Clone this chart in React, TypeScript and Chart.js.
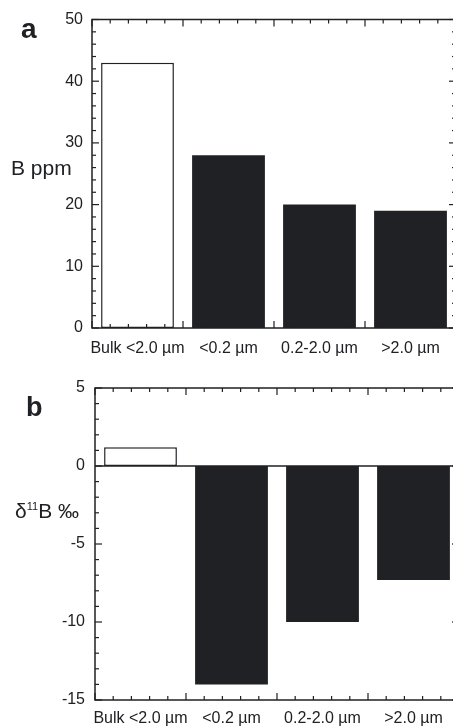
import React, { useEffect, useRef } from "react";
import { Chart, registerables } from "chart.js";

Chart.register(...registerables);

// ---- data ----
const categories = ["Bulk <2.0 µm", "<0.2 µm", "0.2-2.0 µm", ">2.0 µm"];
const boronPpm = [43, 28, 20, 19];
const delta11B = [1.2, -14, -10, -7.3];
const ppmAxis = { min: 0, max: 50, major: 10, minor: 2 };
const deltaAxis = { min: -15, max: 5, major: 5, minor: 1 };

const INK = "#202124";
const FONT = "'Liberation Sans', Arial, Helvetica, sans-serif";

const framePlugin = {
  id: "frame",
  afterDatasetsDraw(chart: any, _args: any, opts: any) {
    const { ctx, chartArea: a, scales } = chart;
    const y = scales.y;
    const x = scales.x;
    const line = (x1: number, y1: number, x2: number, y2: number) => {
      ctx.beginPath();
      ctx.moveTo(x1, y1);
      ctx.lineTo(x2, y2);
      ctx.stroke();
    };
    ctx.save();
    ctx.strokeStyle = INK;
    ctx.lineWidth = 1.5;
    if (y.min < 0 && y.max > 0) {
      const zy = y.getPixelForValue(0);
      line(a.left, zy, a.right, zy);
    }
    ctx.strokeRect(a.left, a.top, a.right - a.left, a.bottom - a.top);
    ctx.lineWidth = 1.2;
    // y ticks (inward, both sides)
    const steps = Math.round((y.max - y.min) / opts.minor);
    for (let i = 0; i <= steps; i++) {
      const v = y.min + i * opts.minor;
      const py = y.getPixelForValue(v);
      const r = v / opts.major;
      const major = Math.abs(r - Math.round(r)) < 1e-6;
      const len = major ? 7 : 4;
      line(a.left, py, a.left + len, py);
      line(a.right, py, a.right - len, py);
    }
    // x ticks (inward, top and bottom), 5 subdivisions per category
    const n = chart.data.labels.length;
    const c0 = x.getPixelForValue(0);
    const w = n > 1 ? x.getPixelForValue(1) - c0 : a.right - a.left;
    const start = c0 - w / 2;
    for (let i = 0; i < n; i++) {
      for (let k = 0; k < 5; k++) {
        const px = start + i * w + (k * w) / 5;
        const len = k === 0 ? 7 : 4;
        line(px, a.bottom, px, a.bottom - len);
        line(px, a.top, px, a.top + len);
      }
    }
    ctx.restore();
  },
};

type PanelProps = {
  values: number[];
  axis: { min: number; max: number; major: number; minor: number };
  width: number;
  height: number;
  padTop: number;
  padRight: number;
  yWidth: number;
  xHeight: number;
  xPad: number;
  yPad: number;
};

function Panel(p: PanelProps) {
  const ref = useRef<HTMLCanvasElement | null>(null);
  useEffect(() => {
    if (!ref.current) return;
    const chart = new Chart(ref.current, {
      type: "bar",
      data: {
        labels: categories,
        datasets: [
          {
            data: p.values,
            backgroundColor: p.values.map((_, i) => (i === 0 ? "#ffffff" : INK)),
            borderColor: INK,
            borderWidth: p.values.map((_, i) => (i === 0 ? 1.5 : 0)),
            borderSkipped: false,
            categoryPercentage: 1,
            barPercentage: 0.8,
          },
        ],
      },
      options: {
        responsive: false,
        animation: false,
        devicePixelRatio: 1,
        layout: { padding: { top: p.padTop, right: p.padRight, left: 0, bottom: 0 } },
        plugins: {
          legend: { display: false },
          tooltip: { enabled: false },
          frame: { major: p.axis.major, minor: p.axis.minor },
        } as any,
        scales: {
          x: {
            offset: true,
            grid: { display: false, drawTicks: false },
            border: { display: false },
            ticks: {
              color: INK,
              padding: p.xPad,
              maxRotation: 0,
              autoSkip: false,
              font: { family: FONT, size: 16 },
            },
            afterFit: (s: any) => {
              s.height = p.xHeight;
            },
          },
          y: {
            min: p.axis.min,
            max: p.axis.max,
            grid: { display: false, drawTicks: false },
            border: { display: false },
            ticks: {
              stepSize: p.axis.major,
              color: INK,
              padding: p.yPad,
              font: { family: FONT, size: 16 },
            },
            afterFit: (s: any) => {
              s.width = p.yWidth;
            },
          },
        },
      },
      plugins: [framePlugin],
    });
    return () => chart.destroy();
  }, []);
  return (
    <canvas
      ref={ref}
      width={p.width}
      height={p.height}
      style={{ width: p.width, height: p.height, display: "block" }}
    />
  );
}

const textBase: React.CSSProperties = {
  position: "absolute",
  fontFamily: FONT,
  color: INK,
  lineHeight: 1,
  whiteSpace: "nowrap",
};

export default function App() {
  return (
    <div
      style={{
        position: "absolute",
        left: 0,
        top: 0,
        width: 453,
        height: 727,
        overflow: "hidden",
        background: "#fff",
      }}
    >
      <div style={{ position: "absolute", left: 0, top: 0 }}>
        <Panel
          values={boronPpm}
          axis={ppmAxis}
          width={460}
          height={365}
          padTop={19.5}
          padRight={4}
          yWidth={92}
          xHeight={37}
          xPad={11}
          yPad={9}
        />
      </div>
      <div style={{ position: "absolute", left: 0, top: 365 }}>
        <Panel
          values={delta11B}
          axis={deltaAxis}
          width={462}
          height={362}
          padTop={23}
          padRight={3}
          yWidth={95}
          xHeight={27}
          xPad={9}
          yPad={10}
        />
      </div>
      <div style={{ ...textBase, left: 21, top: 15, fontSize: 28, fontWeight: "bold" }}>a</div>
      <div style={{ ...textBase, left: 26, top: 394, fontSize: 27, fontWeight: "bold" }}>b</div>
      <div style={{ ...textBase, left: 11, top: 157, fontSize: 21 }}>B ppm</div>
      <div style={{ ...textBase, left: 15, top: 500, fontSize: 21 }}>
        δ<sup style={{ fontSize: 11, verticalAlign: "top", lineHeight: 1, position: "relative", top: 1 }}>11</sup>B ‰
      </div>
    </div>
  );
}
